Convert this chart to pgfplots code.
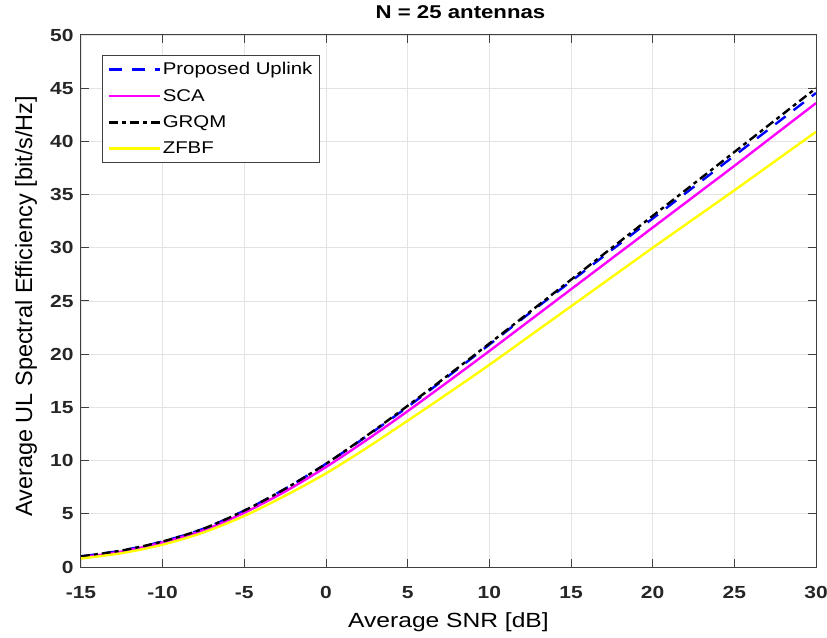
\documentclass[border=0pt]{standalone}
\usepackage{pgfplots}
\pgfplotsset{compat=1.18}
\usepackage{fontspec}
\setmainfont[FakeStretch=1.2]{Liberation Sans}
\newfontfamily\ylfont{Liberation Sans}
\definecolor{mblue}{RGB}{0,0,255}
\definecolor{mmag}{RGB}{255,0,255}
\definecolor{myel}{RGB}{255,255,0}
\begin{document}
\begin{tikzpicture}
\begin{axis}[
  name=ax,
  scale only axis,
  width=735pt, height=532pt,
  xmin=-15, xmax=30, ymin=0, ymax=50,
  xtick={-15,-10,...,30}, ytick={0,5,...,50},
  grid=major,
  major grid style={gray!22, line width=0.7pt},
  tick align=inside,
  major tick length=8pt,
  axis line style={black!75, line width=1pt},
  tick style={black!75, line width=1pt},
  /pgf/number format/assume math mode=true,
  ticklabel style={font=\fontsize{17.5}{20}\selectfont\bfseries, text=black!85},
  xticklabel style={yshift=-16pt},
  yticklabel style={xshift=-4pt},
  xlabel={Average SNR [dB]},
  ylabel={Average UL Spectral Efficiency [bit/s/Hz]},
  xlabel style={font=\fontsize{20.5}{24}\selectfont, at={(axis description cs:0.5,0)}, anchor=base, yshift=-60pt},
  ylabel style={font=\ylfont\fontsize{23.5}{26}\selectfont, at={(axis description cs:-0.0748,0.49)}, anchor=center},
  title={N = 25 antennas},
  title style={font=\fontsize{18.5}{22}\selectfont\bfseries, at={(axis description cs:0.5,1)}, anchor=base, yshift=10pt, xshift=12pt},
  legend style={at={(0.0285,0.9624)}, anchor=north west, font=\fontsize{17}{20}\selectfont, draw=black!75, line width=0.9pt, row sep=9pt, inner xsep=5pt, inner ysep=5pt},
  legend cell align=left,
  legend image code/.code={\draw[#1] (0pt,0pt) -- (51pt,0pt);},
]
\addplot[mblue, line width=2.4pt, dash pattern=on 13pt off 10pt, smooth] coordinates {
(-15,1.0) (-12.5,1.55) (-10,2.4) (-7.5,3.6) (-5,5.3) (-2.5,7.35) (0,9.7) (2.5,12.3) (5,15.05) (7.5,17.95) (10,20.9) (12.5,23.9) (15,26.85) (17.5,29.8) (20,32.75) (22.5,35.7) (25,38.65) (27.5,41.6) (30,44.55)};
\addlegendentry{Proposed Uplink}
\addplot[mmag, line width=2.4pt, smooth] coordinates {
(-15,0.9) (-12.5,1.45) (-10,2.3) (-7.5,3.45) (-5,5.1) (-2.5,7.1) (0,9.4) (2.5,11.95) (5,14.65) (7.5,17.45) (10,20.3) (12.5,23.2) (15,26.1) (17.5,29.0) (20,31.9) (22.5,34.8) (25,37.7) (27.5,40.65) (30,43.6)};
\addlegendentry{SCA}
\addplot[black, line width=2.4pt, dash pattern=on 9pt off 4pt on 4pt off 4pt, smooth] coordinates {
(-15,1.0) (-12.5,1.55) (-10,2.4) (-7.5,3.6) (-5,5.3) (-2.5,7.35) (0,9.7) (2.5,12.35) (5,15.15) (7.5,18.05) (10,21.0) (12.5,24.0) (15,27.0) (17.5,30.0) (20,33.0) (22.5,36.0) (25,39.0) (27.5,42.0) (30,45.0)};
\addlegendentry{GRQM}
\addplot[myel, line width=2.4pt, smooth] coordinates {
(-15,0.8) (-12.5,1.3) (-10,2.1) (-7.5,3.25) (-5,4.8) (-2.5,6.7) (0,8.8) (2.5,11.2) (5,13.75) (7.5,16.35) (10,19.0) (12.5,21.75) (15,24.5) (17.5,27.25) (20,30.0) (22.5,32.7) (25,35.4) (27.5,38.15) (30,40.9)};
\addlegendentry{ZFBF}
\end{axis}
\pgfresetboundingbox
\path (ax.south west) ++(-81pt,-70pt) rectangle ([xshift=11pt,yshift=35pt]ax.north east);
\end{tikzpicture}
\end{document}
